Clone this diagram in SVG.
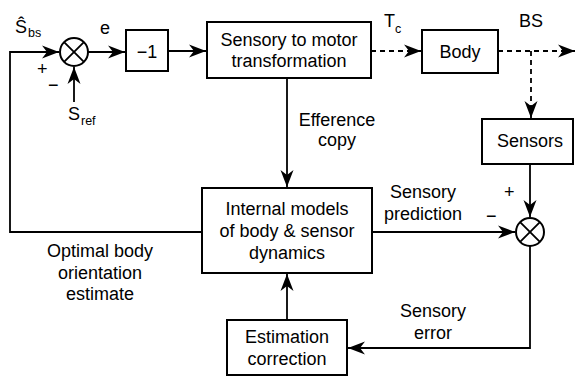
<svg xmlns="http://www.w3.org/2000/svg" width="575" height="376" viewBox="0 0 575 376">
<style>
text{font-family:"Liberation Sans",Arial,sans-serif;font-size:18px;fill:#000}
.c{text-anchor:middle}
.sub{font-size:12.5px}
.box{fill:#fff;stroke:#000;stroke-width:2}
.ln{fill:none;stroke:#000;stroke-width:1.8}
.d{stroke-dasharray:5,4}
.sum{fill:#fff;stroke:#000;stroke-width:2}
</style>
<defs>
<marker id="ah" markerUnits="userSpaceOnUse" viewBox="-17 -7 18 14" refX="0" refY="0" markerWidth="18" markerHeight="14" orient="auto">
<path d="M0,0 L-17,-6.5 L-12,0 L-17,6.5 Z" fill="#000"/>
</marker>
</defs>
<g id="connectors">
<path class="ln" d="M202,232 H10 V52 H59" marker-end="url(#ah)"/>
<path class="ln" d="M74,102 V67" marker-end="url(#ah)"/>
<path class="ln" d="M88,52 H125" marker-end="url(#ah)"/>
<path class="ln" d="M168,51 H206" marker-end="url(#ah)"/>
<path class="ln d" d="M371,51 H421" marker-end="url(#ah)"/>
<path class="ln d" d="M498,51 H575" marker-end="url(#ah)"/>
<path class="ln d" d="M531,51 V118" marker-end="url(#ah)"/>
<path class="ln" d="M287,78 V187" marker-end="url(#ah)"/>
<path class="ln" d="M530,164 V217" marker-end="url(#ah)"/>
<path class="ln" d="M372,232 H515" marker-end="url(#ah)"/>
<path class="ln" d="M530,246 V348 H348" marker-end="url(#ah)"/>
<path class="ln" d="M287,320 V274" marker-end="url(#ah)"/>
</g>
<g id="sum1">
<circle class="sum" cx="74" cy="52" r="14"/>
<path class="ln" d="M64.1,42.1 L83.9,61.9 M83.9,42.1 L64.1,61.9"/>
</g>
<g id="labels-sum1">
<text x="15" y="33">Ŝ</text><text class="sub" x="28" y="37">bs</text>
<text x="37" y="75" font-size="15">+</text>
<text x="48" y="91" font-size="15">−</text>
<text x="68" y="120">S</text><text class="sub" x="81" y="125">ref</text>
<text class="c" x="105" y="34">e</text>
</g>
<g id="neg">
<rect class="box" x="126" y="30" width="42" height="41"/>
<text class="c" x="147" y="58">−1</text>
</g>
<g id="s2m">
<rect class="box" x="207" y="22" width="164" height="56"/>
<text class="c" x="289" y="46">Sensory to motor</text>
<text class="c" x="289" y="67">transformation</text>
</g>
<g id="tc-label">
<text x="384" y="27">T</text><text class="sub" x="395" y="33">c</text>
</g>
<g id="body">
<rect class="box" x="422" y="30" width="76" height="43"/>
<text class="c" x="460" y="58">Body</text>
</g>
<g id="bs-label"><text class="c" x="531" y="27">BS</text></g>
<g id="sensors">
<rect class="box" x="482" y="119" width="91" height="45"/>
<text class="c" x="530" y="147">Sensors</text>
</g>
<g id="eff-label">
<text class="c" x="337" y="126">Efference</text>
<text class="c" x="337" y="146">copy</text>
</g>
<g id="internal">
<rect class="box" x="202" y="188" width="170" height="85"/>
<text class="c" x="287" y="215">Internal models</text>
<text class="c" x="287" y="237">of body &amp; sensor</text>
<text class="c" x="287" y="259">dynamics</text>
</g>
<g id="pred-label">
<text class="c" x="423" y="198">Sensory</text>
<text class="c" x="423" y="220">prediction</text>
</g>
<g id="sum2">
<circle class="sum" cx="530" cy="232" r="14"/>
<path class="ln" d="M520.1,222.1 L539.9,241.9 M539.9,222.1 L520.1,241.9"/>
</g>
<g id="labels-sum2">
<text x="504" y="198" font-size="15">+</text>
<text x="486" y="222" font-size="15">−</text>
</g>
<g id="err-label">
<text class="c" x="433" y="317">Sensory</text>
<text class="c" x="433" y="339">error</text>
</g>
<g id="opt-label">
<text class="c" x="100" y="257">Optimal body</text>
<text class="c" x="100" y="279">orientation</text>
<text class="c" x="100" y="300">estimate</text>
</g>
<g id="estimation">
<rect class="box" x="227" y="320" width="120" height="55"/>
<text class="c" x="287" y="343">Estimation</text>
<text class="c" x="287" y="365">correction</text>
</g>
</svg>
